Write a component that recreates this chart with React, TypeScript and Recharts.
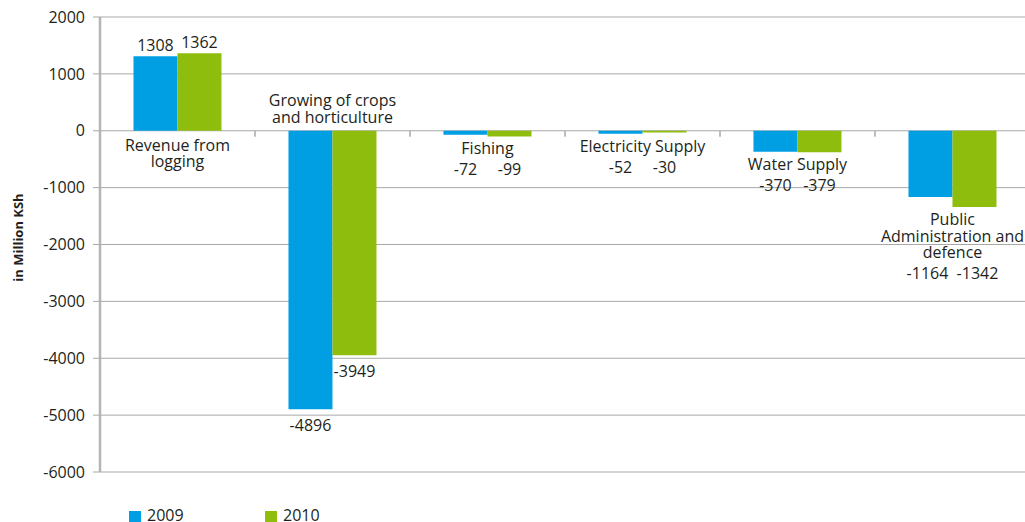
import React from 'react';
import { BarChart, Bar, XAxis, YAxis, CartesianGrid, LabelList, ReferenceLine } from 'recharts';

const categories = [
  'Revenue from\nlogging',
  'Growing of crops\nand horticulture',
  'Fishing',
  'Electricity Supply',
  'Water Supply',
  'Public\nAdministration and\ndefence',
];
const values2009 = [1308, -4896, -72, -52, -370, -1164];
const values2010 = [1362, -3949, -99, -30, -379, -1342];
const seriesNames = ['2009', '2010'];
const seriesColors = ['#009fe3', '#8fbd0e'];
const yTicks = [-6000, -5000, -4000, -3000, -2000, -1000, 0, 1000, 2000];
const yAxisTitle = 'in Million KSh';

const data = categories.map((name, i) => ({ name, v2009: values2009[i], v2010: values2010[i] }));

const FONT = '"Open Sans", "DejaVu Sans", sans-serif';
const TXT = '#231f20';
const GRID = '#a9a9a9';

function CategoryLabel(props: any) {
  const vb = props.viewBox ?? props;
  const x = Number(vb.x);
  const y = Number(vb.y);
  const width = Number(vb.width);
  const height = Number(vb.height);
  const index = props.index as number;
  if (index == null || isNaN(x)) return null;
  const v09 = values2009[index];
  const v10 = values2010[index];
  const top = Math.min(y, y + height);
  const bottom = Math.max(y, y + height);
  const zeroY = v10 >= 0 ? bottom : top;
  const ppu = (bottom - top) / Math.abs(v10);
  const yOf = (v: number) => zeroY - v * ppu;
  const cx = x;
  const lines = categories[index].split('\n');
  const lineH = 16.5;
  const lowest = Math.max(zeroY, yOf(v09), yOf(v10));
  const isLong = Math.min(v09, v10) < -2000;
  let firstY: number;
  let valY09: number;
  let valY10: number;
  let spread = 0;
  if (Math.min(v09, v10) >= 0) {
    firstY = zeroY + 14;
    valY09 = yOf(v09) - 11;
    valY10 = yOf(v10) - 11;
  } else if (isLong) {
    firstY = zeroY - 14 - (lines.length - 1) * lineH;
    valY09 = yOf(v09) + 16;
    valY10 = yOf(v10) + 16;
  } else {
    firstY = lowest + 12;
    valY09 = firstY + (lines.length - 1) * lineH + 21;
    valY10 = valY09;
    const longest = Math.max(String(v09).length, String(v10).length);
    spread = longest >= 5 ? 3 : 0;
  }
  const bx = x - width / 2 - spread;
  const gx = x + width / 2 + spread;
  const common = {
    fontFamily: FONT,
    fontSize: 16,
    fill: TXT,
    textAnchor: 'middle' as const,
    dominantBaseline: 'central' as const,
  };
  return (
    <g>
      {lines.map((ln, i) => (
        <text key={i} x={cx} y={firstY + i * lineH} {...common}>
          {ln}
        </text>
      ))}
      <text x={bx} y={valY09} {...common}>{v09}</text>
      <text x={gx} y={valY10} {...common}>{v10}</text>
    </g>
  );
}

function AxisTitle(props: any) {
  const vb = props.viewBox || { x: 0, y: 17, width: 100, height: 455 };
  const cx = vb.x + 18;
  const cy = vb.y + vb.height / 2 - 7;
  return (
    <text
      x={cx}
      y={cy}
      transform={`rotate(-90 ${cx} ${cy})`}
      textAnchor="middle"
      dominantBaseline="central"
      fontFamily={FONT}
      fontSize={13}
      fontWeight="bold"
      fill={TXT}
    >
      {yAxisTitle}
    </text>
  );
}

export default function App() {
  return (
    <div style={{ position: 'absolute', left: 0, top: 0, width: 1025, height: 522, overflow: 'hidden', background: '#fff' }}>
      <BarChart
        width={1030}
        height={522}
        data={data}
        margin={{ top: 17, right: 0, bottom: 50, left: 0 }}
        barCategoryGap="21.6%"
        barGap={0}
      >
        <CartesianGrid vertical={false} stroke={GRID} strokeWidth={1} />
        <XAxis dataKey="name" hide />
        <YAxis
          width={100}
          domain={[-6000, 2000]}
          ticks={yTicks}
          interval={0}
          tickSize={7}
          tickMargin={8}
          axisLine={{ stroke: '#b5b5b5', strokeWidth: 2.5 }}
          tickLine={{ stroke: GRID }}
          tick={{ fontFamily: FONT, fontSize: 16, fill: TXT }}
          label={{ content: AxisTitle } as any}
        />
        {categories.slice(1).map((c) => (
          <ReferenceLine
            key={c}
            position="start"
            segment={[{ x: c, y: 0 }, { x: c, y: -105 }]}
            stroke={GRID}
            strokeWidth={1.5}
            ifOverflow="visible"
          />
        ))}
        <Bar dataKey="v2009" name={seriesNames[0]} fill={seriesColors[0]} isAnimationActive={false} />
        <Bar dataKey="v2010" name={seriesNames[1]} fill={seriesColors[1]} isAnimationActive={false}>
          <LabelList dataKey="v2010" content={CategoryLabel} />
        </Bar>
      </BarChart>
      {seriesNames.map((s, i) => (
        <div key={s}>
          <div
            style={{ position: 'absolute', left: 129 + i * 136, top: 511, width: 12, height: 12, background: seriesColors[i] }}
          />
          <div
            style={{
              position: 'absolute',
              left: 147 + i * 136,
              top: 507,
              fontFamily: FONT,
              fontSize: 16,
              lineHeight: '16px',
              color: TXT,
            }}
          >
            {s}
          </div>
        </div>
      ))}
    </div>
  );
}
